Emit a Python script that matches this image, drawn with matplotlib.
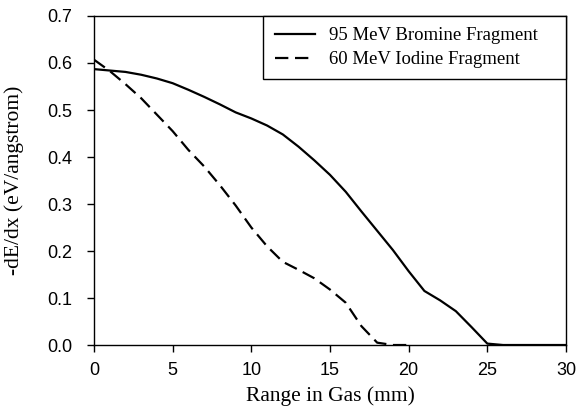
import numpy as np
import matplotlib.pyplot as plt

# range in gas (mm)
range_br = [0, 1, 2, 3, 4, 5, 6, 7, 8, 9, 10, 11, 12, 13, 14, 15, 16, 17, 18, 19,
            20, 21, 22, 23, 24, 25, 26, 27, 28, 29, 30]
dedx_br = [0.587, 0.584, 0.581, 0.575, 0.567, 0.557, 0.543, 0.528, 0.512, 0.495,
           0.482, 0.467, 0.448, 0.422, 0.393, 0.362, 0.326, 0.284, 0.243, 0.202,
           0.157, 0.115, 0.095, 0.072, 0.038, 0.003, 0.0, 0.0, 0.0, 0.0, 0.0]

range_io = [0, 1, 2, 3, 4, 5, 6, 7, 8, 9, 10, 11, 12, 13, 14, 15, 16, 17, 18, 19, 20]
dedx_io = [0.607, 0.583, 0.555, 0.525, 0.490, 0.455, 0.415, 0.380, 0.340, 0.297,
           0.250, 0.210, 0.177, 0.160, 0.142, 0.118, 0.090, 0.040, 0.005, 0.0, 0.0]

label_br = '95 MeV Bromine Fragment'
label_io = '60 MeV Iodine Fragment'

serif = ['Liberation Serif', 'DejaVu Serif']
sans = ['Liberation Sans', 'DejaVu Sans']

fig = plt.figure(figsize=(5.85, 4.07), dpi=100)
ax = fig.add_axes([0.1607, 0.1523, 0.8068, 0.8084])

ax.plot(range_br, dedx_br, color='black', linewidth=1.6, label=label_br)
ax.plot(range_io, dedx_io, color='black', linewidth=1.6, dashes=(6, 3),
        label=label_io)

ax.set_xlim(0, 30)
ax.set_ylim(0, 0.7)
ax.set_xticks(np.arange(0, 31, 5))
ax.set_yticks(np.arange(0, 0.71, 0.1))
ax.set_yticklabels(['{:.1f}'.format(v) for v in np.arange(0, 0.71, 0.1)])

ax.tick_params(direction='out', length=5, width=1, labelsize=13,
               top=False, right=False)
ax.tick_params(axis='y', pad=10.5)
ax.tick_params(axis='x', pad=7.5)
for lab in ax.get_xticklabels() + ax.get_yticklabels():
    lab.set_family(sans)
for s in ax.spines.values():
    s.set_linewidth(1)
    s.set_color('black')

ax.set_xlabel('Range in Gas (mm)', family=serif, fontsize=15.5, labelpad=5)
ax.set_ylabel('-dE/dx (eV/angstrom)', family=serif, fontsize=15.5, labelpad=17)

leg = ax.legend(loc='upper right', bbox_to_anchor=(0.359, 0.0, 0.641, 1.0),
                mode='expand', borderaxespad=0, fancybox=False,
                framealpha=1, edgecolor='black', handlelength=2.15,
                handletextpad=0.75, borderpad=0.6, labelspacing=0.36,
                prop={'family': serif, 'size': 13.5})
leg.get_frame().set_linewidth(1)

fig.savefig('out.png', dpi=100)
